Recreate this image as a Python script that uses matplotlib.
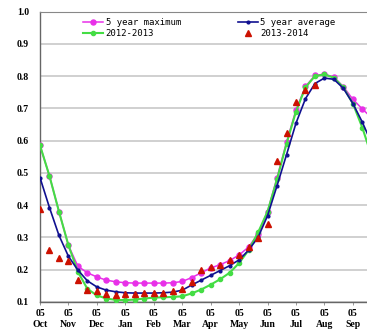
import matplotlib
matplotlib.use("Agg")
import matplotlib.pyplot as plt
import numpy as np

months = ["Oct", "Nov", "Dec", "Jan", "Feb", "Mar", "Apr", "May", "Jun", "Jul", "Aug", "Sep"]
day_label = "05"

five_year_max = [0.585, 0.49, 0.38, 0.275, 0.21, 0.19, 0.177, 0.167, 0.162, 0.159,
                 0.158, 0.158, 0.158, 0.158, 0.159, 0.163, 0.175, 0.19, 0.205, 0.215,
                 0.228, 0.245, 0.27, 0.31, 0.38, 0.485, 0.595, 0.695, 0.768, 0.802,
                 0.806, 0.797, 0.767, 0.728, 0.698, 0.67]
five_year_avg = [0.485, 0.392, 0.306, 0.241, 0.198, 0.165, 0.146, 0.136, 0.131, 0.128,
                 0.127, 0.127, 0.127, 0.128, 0.13, 0.136, 0.152, 0.167, 0.182, 0.197,
                 0.212, 0.23, 0.26, 0.30, 0.367, 0.46, 0.556, 0.654, 0.73, 0.777,
                 0.794, 0.79, 0.762, 0.715, 0.657, 0.59]
season_2012 = [0.585, 0.49, 0.38, 0.275, 0.193, 0.14, 0.12, 0.11, 0.106, 0.105,
               0.107, 0.11, 0.113, 0.114, 0.115, 0.117, 0.126, 0.138, 0.153, 0.17,
               0.19, 0.22, 0.26, 0.315, 0.38, 0.48, 0.59, 0.69, 0.765, 0.80,
               0.805, 0.795, 0.765, 0.715, 0.64, 0.55]
season_2013 = [0.389, 0.262, 0.237, 0.226, 0.169, 0.138, 0.132, 0.125, 0.122, 0.123,
               0.124, 0.126, 0.127, 0.128, 0.132, 0.14, 0.16, 0.198, 0.208, 0.215,
               0.23, 0.245, 0.27, 0.298, 0.342, 0.538, 0.625, 0.72, 0.758, 0.772]

fig = plt.figure(figsize=(3.67, 3.32), dpi=100)
ax = fig.add_axes([0.109, 0.091, 0.93, 0.874])

x36 = np.arange(len(five_year_max))
h_max, = ax.plot(x36, five_year_max, color="#E830E8", lw=1.1, marker="o", ms=3.6,
                 label="5 year maximum", zorder=3)
h_avg, = ax.plot(x36, five_year_avg, color="#101090", lw=1.2, marker="o", ms=2.0,
                 label="5 year average", zorder=5)
h_12, = ax.plot(x36, season_2012, color="#44DD44", lw=1.5, marker="o", ms=3.0,
                label="2012-2013", zorder=4)
h_13, = ax.plot(np.arange(len(season_2013)), season_2013, ls="none", color="#CC1100",
                marker="^", ms=4.0, label="2013-2014", zorder=6)

ax.set_xlim(0, 36)
ax.set_ylim(0.1, 1.0)
ax.set_yticks(np.arange(0.1, 1.01, 0.1))
ax.set_yticklabels([f"{v:.1f}" for v in np.arange(0.1, 1.01, 0.1)],
                   fontfamily="Liberation Serif", fontweight="bold", fontsize=7)
ax.set_xticks(np.arange(0, 36, 3))
ax.set_xticklabels([f"{day_label}\n{m}" for m in months],
                   fontfamily="Liberation Serif", fontweight="bold", fontsize=7,
                   linespacing=1.35)
ax.tick_params(axis="y", length=0, pad=8)
ax.tick_params(axis="x", length=2, width=0.6, color="#888888", pad=3)
ax.grid(axis="y", color="#C8C8C8", lw=1.2)
ax.set_axisbelow(True)
for s in ["left", "bottom"]:
    ax.spines[s].set_color("#666666")
    ax.spines[s].set_linewidth(1.0)
ax.spines["top"].set_color("#888888")
ax.spines["right"].set_visible(False)

leg = ax.legend(handles=[h_max, h_12, h_avg, h_13],
                loc="upper left", bbox_to_anchor=(0.11, 0.995), ncol=2, frameon=False,
                prop={"family": "DejaVu Sans Mono", "size": 6.5}, handlelength=2.2,
                handletextpad=0.3, columnspacing=6.3, labelspacing=0.15,
                borderaxespad=0.2)

fig.savefig("out.png", dpi=100)
